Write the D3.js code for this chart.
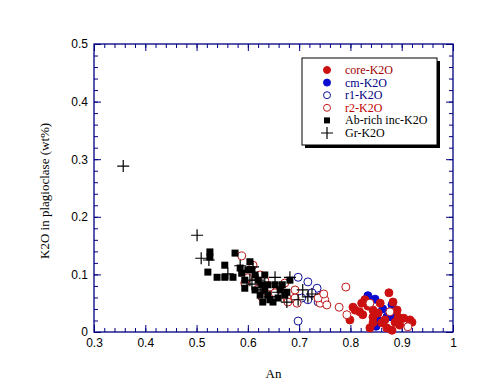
<!DOCTYPE html>
<html>
<head>
<meta charset="utf-8">
<script src="https://cdn.jsdelivr.net/npm/d3@7"></script>
<style>
body { margin: 0; background: #fff; }
</style>
</head>
<body>
<script>
const WIDTH = 485;
const HEIGHT = 384;
const LEFT = 94, RIGHT = 453, TOP = 44, BOTTOM = 332;
const NAVY = '#000080';

// [An, K2O] pairs
const core = [[0.875,0.068],[0.805,0.043],[0.822,0.050],[0.828,0.056],[0.824,0.030],[0.799,0.021],
  [0.844,0.038],[0.844,0.026],[0.854,0.033],[0.858,0.050],[0.883,0.052],[0.891,0.038],[0.893,0.026],
  [0.871,0.007],[0.881,0.003],[0.838,0.007],[0.896,0.012],[0.916,0.021],[0.920,0.017],[0.887,0.017],
  [0.861,0.016],[0.844,0.016],[0.867,0.021],[0.809,0.038],[0.834,0.045],[0.904,0.024],[0.818,0.035]];
const cm = [[0.834,0.063],[0.848,0.057],[0.863,0.040],[0.881,0.047],[0.871,0.026],[0.881,0.026],
  [0.852,0.024],[0.850,0.010]];
const r1 = [[0.698,0.095],[0.717,0.087],[0.735,0.076],[0.717,0.056],[0.705,0.059],[0.698,0.019],
  [0.737,0.052],[0.741,0.061],[0.725,0.068]];
const r2 = [[0.588,0.132],[0.610,0.116],[0.600,0.094],[0.594,0.085],[0.624,0.099],[0.627,0.061],
  [0.620,0.075],[0.643,0.078],[0.663,0.078],[0.672,0.085],[0.692,0.059],[0.676,0.059],[0.692,0.073],
  [0.678,0.052],[0.696,0.050],[0.741,0.050],[0.746,0.064],[0.750,0.056],[0.754,0.047],[0.737,0.059],
  [0.748,0.066],[0.791,0.078],[0.778,0.043],[0.793,0.030],[0.838,0.050],[0.912,0.009],[0.877,0.035],
  [0.633,0.090],[0.653,0.068]];
const abRich = [[0.526,0.139],[0.526,0.130],[0.522,0.104],[0.540,0.095],[0.555,0.116],[0.555,0.095],
  [0.571,0.095],[0.575,0.137],[0.588,0.102],[0.594,0.090],[0.600,0.108],[0.608,0.108],[0.614,0.099],
  [0.620,0.090],[0.627,0.082],[0.633,0.073],[0.639,0.064],[0.643,0.056],[0.653,0.082],[0.663,0.073],
  [0.672,0.064],[0.682,0.090],[0.629,0.052],[0.649,0.052],[0.614,0.073],[0.624,0.064],[0.659,0.059],
  [0.604,0.122],[0.585,0.111],[0.639,0.082],[0.667,0.082],[0.676,0.069],[0.633,0.099],[0.594,0.076]];
const gr = [[0.357,0.288],[0.501,0.168],[0.509,0.128],[0.524,0.125],[0.561,0.101],[0.585,0.115],
  [0.610,0.113],[0.608,0.083],[0.620,0.090],[0.653,0.095],[0.682,0.095],[0.624,0.073],[0.659,0.069],
  [0.676,0.052],[0.707,0.073],[0.717,0.061],[0.725,0.066],[0.698,0.056],[0.643,0.061],[0.604,0.090],
  [0.633,0.085]];

const xTicks = [0.3, 0.4, 0.5, 0.6, 0.7, 0.8, 0.9, 1];
const yTicks = [0, 0.1, 0.2, 0.3, 0.4, 0.5];
const legendNames = ['core-K2O', 'cm-K2O', 'r1-K2O', 'r2-K2O', 'Ab-rich inc-K2O', 'Gr-K2O'];

const svg = d3.select('body').append('svg')
    .attr('width', WIDTH)
    .attr('height', HEIGHT);

const x = d3.scaleLinear().domain([0.3, 1]).range([LEFT, RIGHT]);
const y = d3.scaleLinear().domain([0, 0.5]).range([BOTTOM, TOP]);

const minorX = d3.range(0.3, 1.001, 0.02).map(v => +v.toFixed(2));
const minorY = d3.range(0, 0.501, 0.02).map(v => +v.toFixed(2));

// minor ticks (inward, all four sides)
const ax = (g, axis) => g.call(axis).call(s => s.select('.domain').remove())
    .call(s => s.selectAll('line').attr('stroke', NAVY));
svg.append('g').attr('transform', `translate(0,${BOTTOM})`)
    .call(g => ax(g, d3.axisBottom(x).tickValues(minorX).tickSize(-4).tickFormat('')));
svg.append('g').attr('transform', `translate(0,${TOP})`)
    .call(g => ax(g, d3.axisTop(x).tickValues(minorX).tickSize(-4).tickFormat('')));
svg.append('g').attr('transform', `translate(${LEFT},0)`)
    .call(g => ax(g, d3.axisLeft(y).tickValues(minorY).tickSize(-4).tickFormat('')));
svg.append('g').attr('transform', `translate(${RIGHT},0)`)
    .call(g => ax(g, d3.axisRight(y).tickValues(minorY).tickSize(-4).tickFormat('')));

// major ticks with labels
const xAxis = svg.append('g').attr('transform', `translate(0,${BOTTOM})`)
    .call(g => ax(g, d3.axisBottom(x).tickValues(xTicks).tickSizeInner(-7).tickPadding(6)
        .tickFormat(d => d === 1 ? '1' : d3.format('.1f')(d))));
const yAxis = svg.append('g').attr('transform', `translate(${LEFT},0)`)
    .call(g => ax(g, d3.axisLeft(y).tickValues(yTicks).tickSizeInner(-7).tickPadding(6)
        .tickFormat(d => d === 0 ? '0' : d3.format('.1f')(d))));
svg.append('g').attr('transform', `translate(0,${TOP})`)
    .call(g => ax(g, d3.axisTop(x).tickValues(xTicks).tickSizeInner(-7).tickFormat('')));
svg.append('g').attr('transform', `translate(${RIGHT},0)`)
    .call(g => ax(g, d3.axisRight(y).tickValues(yTicks).tickSizeInner(-7).tickFormat('')));

svg.selectAll('.tick text')
    .attr('fill', '#000')
    .style('font-family', 'Liberation Sans, Arial, sans-serif')
    .style('font-size', '12px');

// frame
svg.append('rect')
    .attr('x', LEFT).attr('y', TOP)
    .attr('width', RIGHT - LEFT).attr('height', BOTTOM - TOP)
    .attr('fill', 'none').attr('stroke', NAVY).attr('stroke-width', 1.3);

// axis titles
svg.append('text')
    .attr('x', x(0.65)).attr('y', 378)
    .attr('text-anchor', 'middle')
    .style('font-family', 'Liberation Serif, Times New Roman, serif')
    .style('font-size', '13px')
    .text('An');
svg.append('text')
    .attr('transform', `translate(49,${y(0.245)}) rotate(-90)`)
    .attr('text-anchor', 'middle')
    .style('font-family', 'Liberation Serif, Times New Roman, serif')
    .style('font-size', '13px')
    .text('K2O in plagioclase (wt%)');

// marks
const plot = svg.append('g');
const circles = (data, fill, stroke) => plot.append('g').selectAll('circle')
    .data(data).join('circle')
    .attr('cx', d => x(d[0])).attr('cy', d => y(d[1]))
    .attr('r', 4)
    .attr('fill', fill).attr('stroke', stroke).attr('stroke-width', 1);

circles(cm, '#0a0ad0', '#0a0ad0');
circles(core, '#cc1010', '#cc1010');
circles(r1, '#fff', '#10109a');
circles(r2, '#fff', '#c01818');

plot.append('g').selectAll('rect')
    .data(abRich).join('rect')
    .attr('x', d => x(d[0]) - 3.5).attr('y', d => y(d[1]) - 3.5)
    .attr('width', 7).attr('height', 7)
    .attr('fill', '#000');

plot.append('g').selectAll('path')
    .data(gr).join('path')
    .attr('d', d => `M${x(d[0]) - 6},${y(d[1])}H${x(d[0]) + 6}M${x(d[0])},${y(d[1]) - 6}V${y(d[1]) + 6}`)
    .attr('stroke', '#000').attr('stroke-width', 1.2);

// legend
const legend = svg.append('g').attr('transform', 'translate(302,58)');
legend.append('rect').attr('x', 3).attr('y', 3).attr('width', 135).attr('height', 87).attr('fill', '#000');
legend.append('rect').attr('x', 0).attr('y', 0).attr('width', 135).attr('height', 87)
    .attr('fill', '#fff').attr('stroke', '#000').attr('stroke-width', 1);

const legendColors = ['#a00000', '#000080', '#000080', '#c00000', '#000', '#000'];
const rows = legend.selectAll('g.row').data(legendNames).join('g')
    .attr('class', 'row')
    .attr('transform', (d, i) => `translate(0,${12 + i * 12.6})`);

rows.append('text')
    .attr('x', 43).attr('y', 4)
    .attr('fill', (d, i) => legendColors[i])
    .style('font-family', 'Liberation Serif, Times New Roman, serif')
    .style('font-size', '12px')
    .text(d => d);

rows.each(function (d, i) {
    const g = d3.select(this);
    if (i < 4) {
        const filled = i < 2;
        const c = ['#cc1010', '#0a0ad0', '#10109a', '#c01818'][i];
        g.append('circle').attr('cx', 25).attr('cy', 0).attr('r', 3.5)
            .attr('fill', filled ? c : '#fff').attr('stroke', c);
    } else if (i === 4) {
        g.append('rect').attr('x', 22).attr('y', -3).attr('width', 6).attr('height', 6).attr('fill', '#000');
    } else {
        g.append('path').attr('d', 'M19,0H31M25,-6V6').attr('stroke', '#000').attr('stroke-width', 1.2);
    }
});
</script>
</body>
</html>
